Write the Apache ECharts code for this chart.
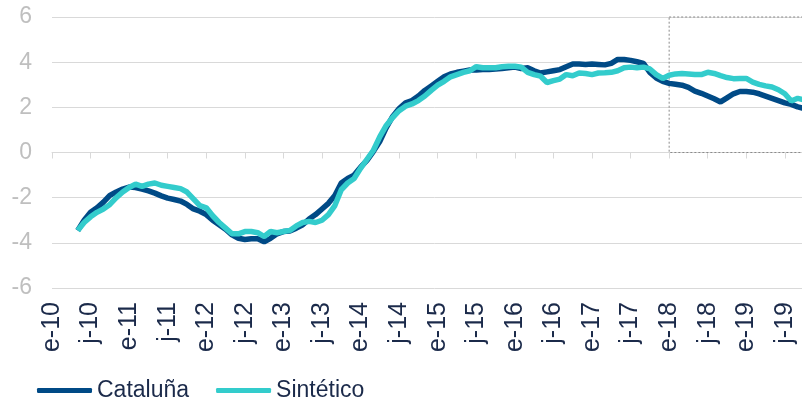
<!DOCTYPE html>
<html>
<head>
<meta charset="utf-8">
<script src="https://cdn.jsdelivr.net/npm/echarts@6/dist/echarts.min.js"></script>
<style>
  html, body { margin: 0; padding: 0; background: #ffffff; overflow: hidden; }
  #chart { width: 817px; height: 401px; }
</style>
</head>
<body>
<div id="chart"></div>
<script>
// Month letters (Spanish) and years for the category axis
const monthLetters = ['e', 'f', 'm', 'a', 'm', 'j', 'j', 'a', 's', 'o', 'n', 'd'];
const years = [2010, 2011, 2012, 2013, 2014, 2015, 2016, 2017, 2018, 2019];
// Series start in May 2010 (month index 4)
const seriesStartIndex = 4;

const cataluna = [
  -3.45, -3.0, -2.65, -2.45, -2.2, -1.9, -1.75, -1.62,           // may-10 .. dic-10
  -1.53, -1.55, -1.62, -1.7, -1.8, -1.92, -2.02, -2.08, -2.15, -2.3, -2.5, -2.6, // 2011
  -2.75, -3.0, -3.2, -3.4, -3.65, -3.8, -3.85, -3.82, -3.82, -3.95, -3.8, -3.6,  // 2012
  -3.5, -3.48, -3.35, -3.2, -2.95, -2.75, -2.5, -2.25, -1.9, -1.35, -1.15, -1.0, // 2013
  -0.65, -0.35, 0.05, 0.5, 1.1, 1.6, 1.95, 2.2, 2.3, 2.5, 2.75, 2.95,            // 2014
  3.15, 3.35, 3.48, 3.55, 3.6, 3.65, 3.65, 3.68, 3.68, 3.7, 3.72, 3.75,          // 2015
  3.78, 3.72, 3.75, 3.62, 3.52, 3.57, 3.62, 3.67, 3.8, 3.92, 3.92, 3.9,          // 2016
  3.92, 3.9, 3.88, 3.95, 4.12, 4.12, 4.08, 4.02, 3.95, 3.55, 3.3, 3.15,          // 2017
  3.06, 3.02, 2.98, 2.88, 2.72, 2.62, 2.5, 2.38, 2.24, 2.42, 2.6, 2.7,           // 2018
  2.7, 2.67, 2.6, 2.5, 2.4, 2.3, 2.2, 2.13, 2.02, 1.95                            // 2019
];

const sintetico = [
  -3.45, -3.1, -2.85, -2.65, -2.5, -2.3, -2.0, -1.75,             // may-10 .. dic-10
  -1.55, -1.4, -1.5, -1.4, -1.35, -1.45, -1.5, -1.55, -1.6, -1.75, -2.05, -2.35, // 2011
  -2.45, -2.8, -3.1, -3.35, -3.6, -3.6, -3.5, -3.5, -3.55, -3.72, -3.5, -3.55,   // 2012
  -3.5, -3.45, -3.25, -3.1, -3.05, -3.1, -3.0, -2.75, -2.35, -1.65, -1.35, -1.15, // 2013
  -0.7, -0.3, 0.1, 0.7, 1.2, 1.55, 1.85, 2.05, 2.15, 2.3, 2.5, 2.75,             // 2014
  2.98, 3.15, 3.35, 3.45, 3.55, 3.62, 3.8, 3.75, 3.75, 3.75, 3.8, 3.82,          // 2015
  3.82, 3.78, 3.55, 3.45, 3.38, 3.1, 3.18, 3.25, 3.45, 3.4, 3.52, 3.5,           // 2016
  3.45, 3.52, 3.53, 3.55, 3.62, 3.75, 3.78, 3.75, 3.78, 3.7, 3.45, 3.28,         // 2017
  3.42, 3.48, 3.5, 3.48, 3.45, 3.45, 3.55, 3.5, 3.4, 3.32, 3.27, 3.28,           // 2018
  3.28, 3.12, 3.02, 2.95, 2.9, 2.78, 2.6, 2.28, 2.4, 2.33                         // 2019
];

const yTicks = { min: -6, max: 6, interval: 2 };
const highlightFromIndex = 96; // e-18

// Build category keys (unique) and their display labels
const categories = [];
const catLabels = [];
years.forEach(function (y) {
  monthLetters.forEach(function (m, mi) {
    categories.push(y + '-' + String(mi + 1).padStart(2, '0'));
    catLabels.push(m + '-' + String(y).slice(2));
  });
});

function pad(arr) {
  const out = new Array(seriesStartIndex).fill(null).concat(arr);
  while (out.length < categories.length) out.push(null);
  return out;
}

const chart = echarts.init(document.getElementById('chart'), null, { renderer: 'canvas' });
const gridColor = '#d9d9d9';
const navy = '#1b2a4a';
const font = 'Liberation Sans, Arial, sans-serif';

chart.setOption({
  animation: false,
  backgroundColor: '#ffffff',
  grid: { left: 52, right: 0, top: 17, bottom: 113, containLabel: false },
  legend: {
    left: 37,
    top: 379,
    padding: 0,
    icon: 'roundRect',
    itemWidth: 55,
    itemHeight: 5,
    itemGap: 27,
    textStyle: { color: navy, fontSize: 23, fontFamily: font },
    data: ['Cataluña', 'Sintético']
  },
  xAxis: [
    {
      type: 'category',
      data: categories,
      boundaryGap: false,
      axisLine: { onZero: true, lineStyle: { color: gridColor, width: 1 } },
      axisTick: { show: true, length: 6, interval: function (i) { return i % 6 === 0; }, lineStyle: { color: gridColor } },
      axisLabel: { show: false },
      splitLine: { show: false }
    },
    {
      type: 'category',
      data: categories,
      boundaryGap: false,
      position: 'bottom',
      axisLine: { show: false, onZero: false },
      axisTick: { show: false },
      axisLabel: {
        show: true,
        rotate: 90,
        margin: 14,
        padding: [0, 0, 6, 0],
        interval: function (i) { return i % 6 === 0; },
        formatter: function (v, i) { return catLabels[i]; },
        color: navy,
        fontSize: 25,
        fontFamily: font
      },
      splitLine: { show: false }
    }
  ],
  yAxis: {
    type: 'value',
    min: yTicks.min,
    max: yTicks.max,
    interval: yTicks.interval,
    axisLine: { show: false },
    axisTick: { show: false },
    axisLabel: { color: '#bfbfbf', fontSize: 23, fontFamily: font, margin: 20 },
    splitLine: { lineStyle: { color: gridColor, width: 1 } }
  },
  series: [
    {
      name: 'Cataluña',
      type: 'line',
      xAxisIndex: 0,
      data: pad(cataluna),
      showSymbol: false,
      symbol: 'none',
      lineStyle: { color: '#004a86', width: 5.5 },
      itemStyle: { color: '#004a86' },
      markArea: {
        silent: true,
        itemStyle: { color: 'rgba(0,0,0,0)', borderColor: '#8a8a8a', borderWidth: 1, borderType: [2, 2] },
        data: [[{ xAxis: highlightFromIndex, yAxis: 6 }, { xAxis: categories.length - 1, yAxis: 0 }]]
      }
    },
    {
      name: 'Sintético',
      type: 'line',
      xAxisIndex: 0,
      data: pad(sintetico),
      showSymbol: false,
      symbol: 'none',
      lineStyle: { color: '#33cccc', width: 5.5 },
      itemStyle: { color: '#33cccc' }
    }
  ]
});
</script>
</body>
</html>
